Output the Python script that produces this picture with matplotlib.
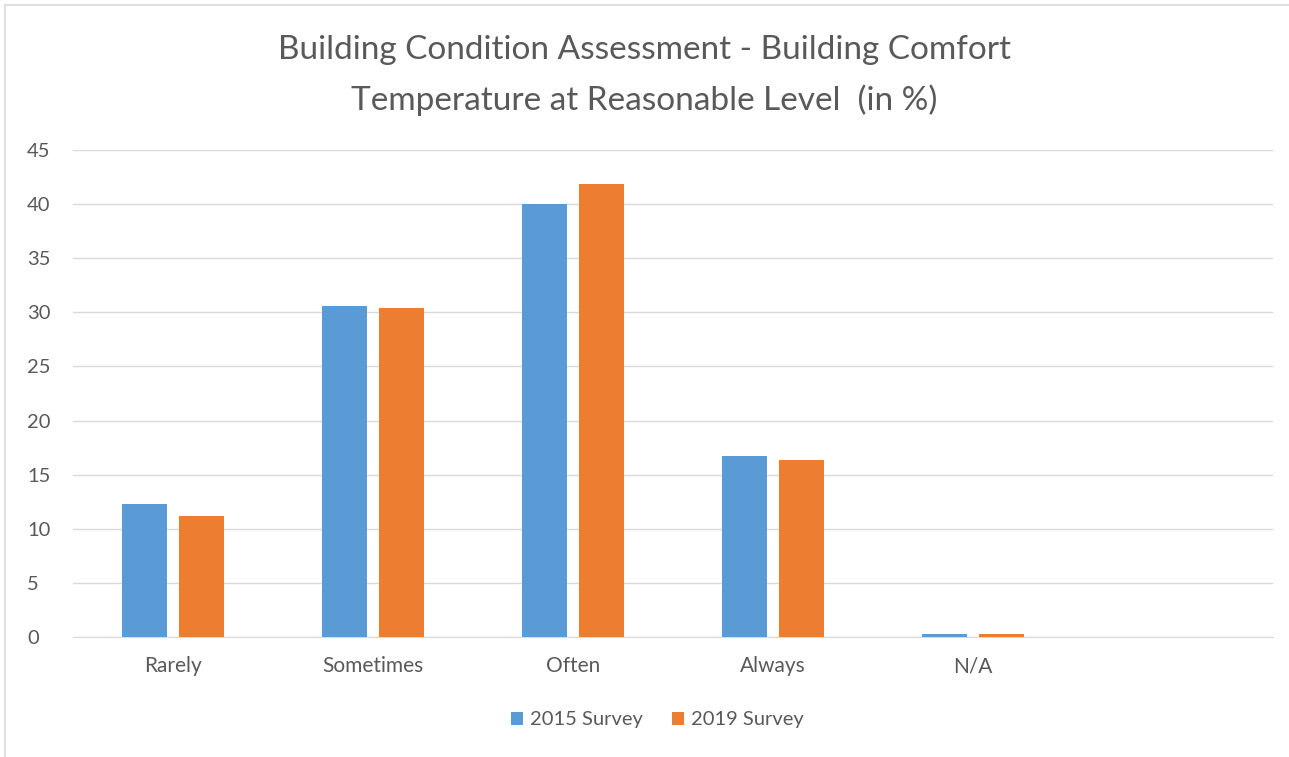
import numpy as np
import matplotlib.pyplot as plt
from matplotlib.patches import Rectangle

categories = ["Rarely", "Sometimes", "Often", "Always", "N/A", ""]
survey_2015 = [12.25, 30.6, 40.0, 16.7, 0.3, 0]
survey_2019 = [11.15, 30.4, 41.9, 16.4, 0.3, 0]
series_names = ["2015 Survey", "2019 Survey"]

plt.rcParams['font.family'] = ['Lato', 'DejaVu Sans']
grey = '#595959'

fig = plt.figure(figsize=(12.89, 7.57), dpi=100)
# chart border (cropped like the screenshot)
fig.patches.append(Rectangle((5 / 1289, -0.1), 1.2, 1 - 5 / 757 + 0.1, transform=fig.transFigure,
                             fill=False, edgecolor='#d9d9d9', linewidth=1.2))

ax = fig.add_axes([73 / 1289, 1 - 637 / 757, 1200 / 1289, 487 / 757])
x = np.arange(len(categories))
w = 0.225
ax.bar(x - 0.142, survey_2015, w, color='#5b9bd5', label=series_names[0], zorder=3)
ax.bar(x + 0.142, survey_2019, w, color='#ed7d31', label=series_names[1], zorder=3)

ax.set_xlim(-0.5, len(categories) - 0.5)
ax.set_ylim(0, 45)
ax.set_yticks(range(0, 50, 5))
ax.set_xticks(x[:5])
ax.set_xticklabels(categories[:5])
ax.grid(axis='y', color='#d9d9d9', linewidth=1, zorder=0)
for s in ['top', 'right', 'left']:
    ax.spines[s].set_visible(False)
ax.spines['bottom'].set_color('#d9d9d9')
ax.tick_params(length=0, colors=grey)
ax.tick_params(axis='x', pad=14, labelsize=15)
ax.tick_params(axis='y', pad=33, labelsize=14.5)
for lbl in ax.get_yticklabels():
    lbl.set_horizontalalignment('left')

fig.text(0.5, 1 - 50 / 757, "Building Condition Assessment - Building Comfort", ha='center', va='center',
         fontsize=24, color=grey)
fig.text(0.5, 1 - 100 / 757, "Temperature at Reasonable Level  (in %)", ha='center', va='center',
         fontsize=24, color=grey)

fig.legend(loc='center', bbox_to_anchor=(0.51, 1 - 720 / 757), ncol=2, frameon=False,
           fontsize=14.5, labelcolor=grey, handlelength=0.6, handleheight=0.6,
           handletextpad=0.35, columnspacing=1.4)

fig.savefig('out.png', dpi=100, facecolor='white')
